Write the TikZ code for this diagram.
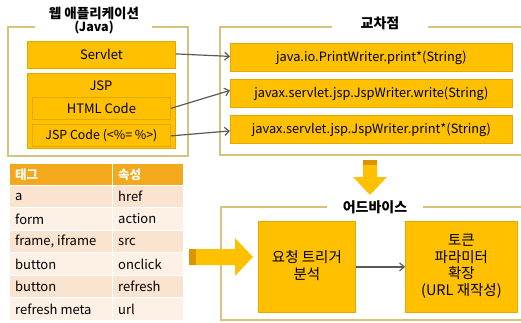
\documentclass[tikz,border=0pt]{standalone}
\usepackage{fontspec}
\setmainfont{Noto Sans CJK KR}
\usetikzlibrary{arrows.meta}
\definecolor{gold}{HTML}{FFC000}
\definecolor{goldline}{HTML}{E3A900}
\definecolor{frameline}{HTML}{D8C37E}
\definecolor{darkgold}{HTML}{D99400}
\definecolor{hdr}{HTML}{F4A81C}
\definecolor{rowa}{HTML}{FBE4CF}
\definecolor{rowb}{HTML}{FDF1E6}
\definecolor{arrowgray}{HTML}{5A5A5A}
\begin{document}
\begin{tikzpicture}[x=1pt,y=-1pt,
  box/.style={draw=goldline,fill=gold,line width=0.8pt,inner sep=0pt,anchor=north west},
  lbl/.style={font=\fontsize{13}{15}\selectfont,inner sep=0pt},
  jlbl/.style={font=\fontsize{12.8}{15}\selectfont,inner sep=0pt},
  klbl/.style={font=\fontsize{14.5}{16.7}\selectfont,align=center,inner sep=0pt},
  frame/.style={draw=frameline,line width=1.1pt},
  title/.style={font=\fontsize{14}{16}\selectfont\bfseries,inner sep=0pt},
  conn/.style={draw=arrowgray,line width=1.2pt,-{Straight Barb[length=4.5pt,width=8pt]}},
  cell/.style={font=\fontsize{13}{15}\selectfont,anchor=west,inner sep=0pt},
  hcell/.style={cell,text=white,font=\fontsize{12.5}{14}\selectfont\bfseries}
]
\useasboundingbox (0,0) rectangle (521,322);
% ---- left group: web application
\draw[frame] (35,27) -- (8,27) -- (8,156) -- (188,156) -- (188,27) -- (152,27);
\node[title,font=\fontsize{13.5}{15}\selectfont\bfseries] (wtitle) at (94,13) {웹 애플리케이션};
\node[font=\fontsize{12.5}{14}\selectfont\bfseries,inner sep=0pt] (java) at (94,28) {(Java)};
\node[box,minimum width=148,minimum height=27] (servlet) at (27,41) {};
\node[lbl] at (servlet.center) {Servlet};
\node[box,minimum width=148,minimum height=75] (jsp) at (27,73) {};
\node[lbl] (jsplabel) at (101,86) {JSP};
\node[box,minimum width=138,minimum height=22] (html) at (32,97) {};
\node[lbl] at (html.center) {HTML Code};
\node[box,minimum width=138,minimum height=22] (jspcode) at (32,124) {};
\node[font=\fontsize{12.4}{14}\selectfont,inner sep=0pt] at (jspcode.center) {JSP Code (<\%{}= \%>)};
% ---- right group: joinpoints
\draw[frame] (332,27) -- (220,27) -- (220,155) -- (522,155);
\draw[frame] (428,27) -- (522,27);
\node[title] (jtitle) at (380,23) {교차점};
\node[box,minimum width=282,minimum height=28] (j1) at (230,43) {};
\node[jlbl] at (j1.center) {java.io.PrintWriter.print*(String)};
\node[box,minimum width=282,minimum height=28] (j2) at (230,79) {};
\node[jlbl] at (j2.center) {javax.servlet.jsp.JspWriter.write(String)};
\node[box,minimum width=282,minimum height=28] (j3) at (230,115) {};
\node[jlbl] at (j3.center) {javax.servlet.jsp.JspWriter.print*(String)};
% connectors
\draw[conn] ([yshift=1pt]servlet.east) -- ([yshift=1pt]j1.west);
\draw[conn] (html.east) -- ([yshift=3pt]j2.west);
\draw[conn] ([yshift=-0.5pt]jspcode.east) -- ([yshift=-1.5pt]j3.west);
% ---- down block arrow
\fill[gold] (363,160) -- (377,160) -- (377,177) -- (387,177) -- (370,195) -- (353,177) -- (363,177) -- cycle;
\fill[darkgold] (363,160) rectangle (377,165);
% ---- advice group
\draw[frame] (327,207) -- (221,207) -- (221,320) -- (522,320);
\draw[frame] (423,207) -- (522,207);
\node[title] (atitle) at (375,207) {어드바이스};
\node[box,minimum width=97,minimum height=91] (trig) at (258,221) {};
\node[klbl] at ([yshift=1.5pt]trig.center) {요청 트리거\\분석};
\node[box,minimum width=112,minimum height=91] (tok) at (405,221) {};
\node[klbl] at ([yshift=0.5pt]tok.center) {토큰\\파라미터\\확장\\(URL 재작성)};
\draw[conn] (trig.east) -- (tok.west);
% ---- right block arrow
\fill[gold] (189,249) -- (235,249) -- (235,238) -- (253,257) -- (235,276) -- (235,265) -- (189,265) -- cycle;
\fill[darkgold] (189,249) rectangle (196,265);
% ---- table
\fill[hdr] (10,164) rectangle (183,185);
\foreach \i/\c in {0/rowa,1/rowb,2/rowa,3/rowb,4/rowa,5/rowb}{
  \fill[\c] (10,185+22.5*\i) rectangle (183,185+22.5*\i+22.5);
}
\foreach \i in {0,...,6}{\draw[white,line width=1pt] (10,185+22.5*\i) -- (183,185+22.5*\i);}
\draw[white,line width=1pt] (112,164) -- (112,320);
\node[hcell] (h1) at (15,175) {태그};
\node[hcell] (h2) at (118,175) {속성};
\node[cell] (a1) at (15,196.5) {a};
\node[cell] (a2) at (118,196.5) {href};
\node[cell] (b1) at (15,219) {form};
\node[cell] (b2) at (118,219) {action};
\node[cell] (c1) at (15,241.5) {frame, iframe};
\node[cell] (c2) at (118,241.5) {src};
\node[cell] (d1) at (15,264) {button};
\node[cell] (d2) at (118,264) {onclick};
\node[cell] (e1) at (15,286.5) {button};
\node[cell] (e2) at (118,286.5) {refresh};
\node[cell] (f1) at (15,309) {refresh meta};
\node[cell] (f2) at (118,309) {url};
\end{tikzpicture}
\end{document}
